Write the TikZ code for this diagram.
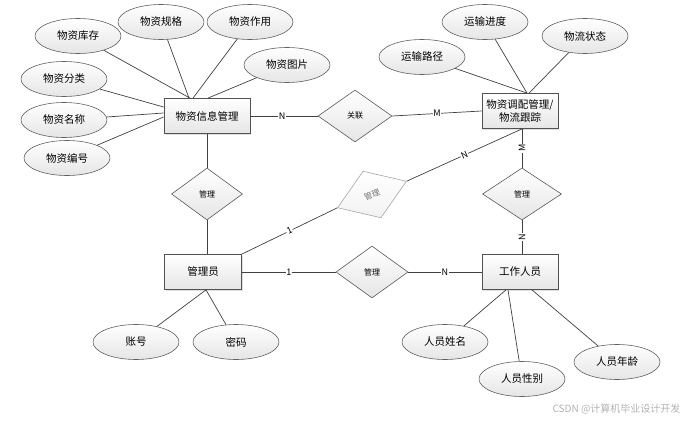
\documentclass[tikz,border=0pt]{standalone}
\usepackage{fontspec}
\setmainfont{Noto Sans CJK SC}
\usetikzlibrary{shapes.geometric,shadows,calc}
\tikzset{
  lk/.style={draw=black!75, line width=0.7pt},
  ent/.style={rectangle, draw=black!68, line width=0.8pt, top color=white, bottom color=black!10,
    minimum height=35pt, inner sep=1pt, font=\fontsize{10.5}{13}\selectfont, align=center,
    drop shadow={shadow xshift=1pt, shadow yshift=-1pt, opacity=0.25}},
  att/.style={ellipse, draw=black!62, line width=0.6pt, top color=white, bottom color=black!10,
    minimum width=86pt, minimum height=35pt, inner sep=0pt, font=\fontsize{10.5}{13}\selectfont},
  rel/.style={diamond, draw=black!65, line width=0.6pt, top color=white, bottom color=black!10,
    minimum width=72pt, minimum height=52pt, inner sep=0pt, font=\fontsize{8}{10}\selectfont},
  card/.style={fill=white, inner sep=0.8pt, font=\fontsize{9}{10}\selectfont},
}
\begin{document}
\begin{tikzpicture}[x=1pt,y=-1pt]
\useasboundingbox (0,0) rectangle (691,423);
% entities
\node[ent, minimum width=86pt] (info) at (207,116) {物资信息管理};
\node[ent, minimum width=76pt] (disp) at (520,111) {物资调配管理/\\物流跟踪};
\node[ent, minimum width=77pt] (admin) at (203,272) {管理员};
\node[ent, minimum width=76pt] (work) at (520,272) {工作人员};
% attributes of info
\node[att] (kc) at (78,36) {物资库存};
\node[att] (gg) at (161,22) {物资规格};
\node[att] (zy) at (250,22) {物资作用};
\node[att] (tp) at (287,65) {物资图片};
\node[att] (fl) at (64,79) {物资分类};
\node[att] (mc) at (64,120) {物资名称};
\node[att] (bh) at (67,158) {物资编号};
% attributes of disp
\node[att] (lj) at (422,57) {运输路径};
\node[att] (jd) at (485,22) {运输进度};
\node[att] (zt) at (585,36) {物流状态};
% attributes of admin
\node[att] (zh) at (136,342) {账号};
\node[att] (mm) at (236,342) {密码};
% attributes of work
\node[att] (xm) at (445,342) {人员姓名};
\node[att] (xb) at (522,379) {人员性别};
\node[att] (nl) at (617,362) {人员年龄};
% relations
\node[rel, minimum width=74pt] (gl) at (355,116) {关联};
\node[rel, minimum width=71pt] (m1) at (207,194) {管理};
\node[rel, minimum width=79pt] (m2) at (522,194) {管理};
\node[rel] (m3) at (372,272) {管理};
\node[rel, rotate=21, draw=black!35, top color=white, bottom color=black!5, minimum width=74pt, minimum height=50pt] (m4) at (372,194.5) {};
\node[rotate=21, text=black!55, font=\fontsize{8}{10}\selectfont, inner sep=0pt] (m4t) at (m4.center) {管理};
% attribute links
\draw[lk] (kc) -- ([xshift=-17pt]info.north);
\draw[lk] (gg) -- ([xshift=-18pt]info.north);
\draw[lk] (zy) -- ([xshift=-14pt]info.north);
\draw[lk] (tp) -- ([xshift=1pt]info.north);
\draw[lk] (fl) -- ([yshift=9pt]info.west);
\draw[lk] (mc) -- ([yshift=3pt]info.west);
\draw[lk] (bh) -- ([yshift=-1pt]info.west);
\draw[lk] (lj) -- ([xshift=7pt]disp.north);
\draw[lk] (jd) -- ([xshift=7pt]disp.north);
\draw[lk] (zt) -- ([xshift=9pt]disp.north);
\draw[lk] ([xshift=3pt]admin.south) -- (zh);
\draw[lk] ([xshift=3pt]admin.south) -- (mm);
\draw[lk] ([xshift=-14pt]work.south) -- (xm);
\draw[lk] ([xshift=-12pt]work.south) -- (xb);
\draw[lk] ([xshift=12pt]work.south) -- (nl);
% relation links
\draw[lk] (info.east) -- node[card, pos=0.47] {N} (gl.west);
\draw[lk] (gl.east) -- node[card] {M} (disp.west);
\draw[lk] (info.south) -- (m1.north);
\draw[lk] (m1.south) -- (admin.north -| m1.south);
\draw[lk] (m2.north |- disp.south) -- node[card, rotate=90] {M} (m2.north);
\draw[lk] (m2.south) -- node[card, rotate=90] {N} (work.north -| m2.south);
\draw[lk] (admin.east) -- node[card] {1} (m3.west);
\draw[lk] (m3.east) -- node[card] {N} (work.west);
\draw[lk] ([xshift=2pt]disp.south) -- node[card, sloped] {N} (m4.east);
\draw[lk] (admin.north east) -- node[card, sloped] {1} (m4.west);
% watermark
\node[text=black!30, font=\fontsize{10}{12}\selectfont, anchor=east] (wm) at (684,409) {CSDN @计算机毕业设计开发};
\end{tikzpicture}
\end{document}
